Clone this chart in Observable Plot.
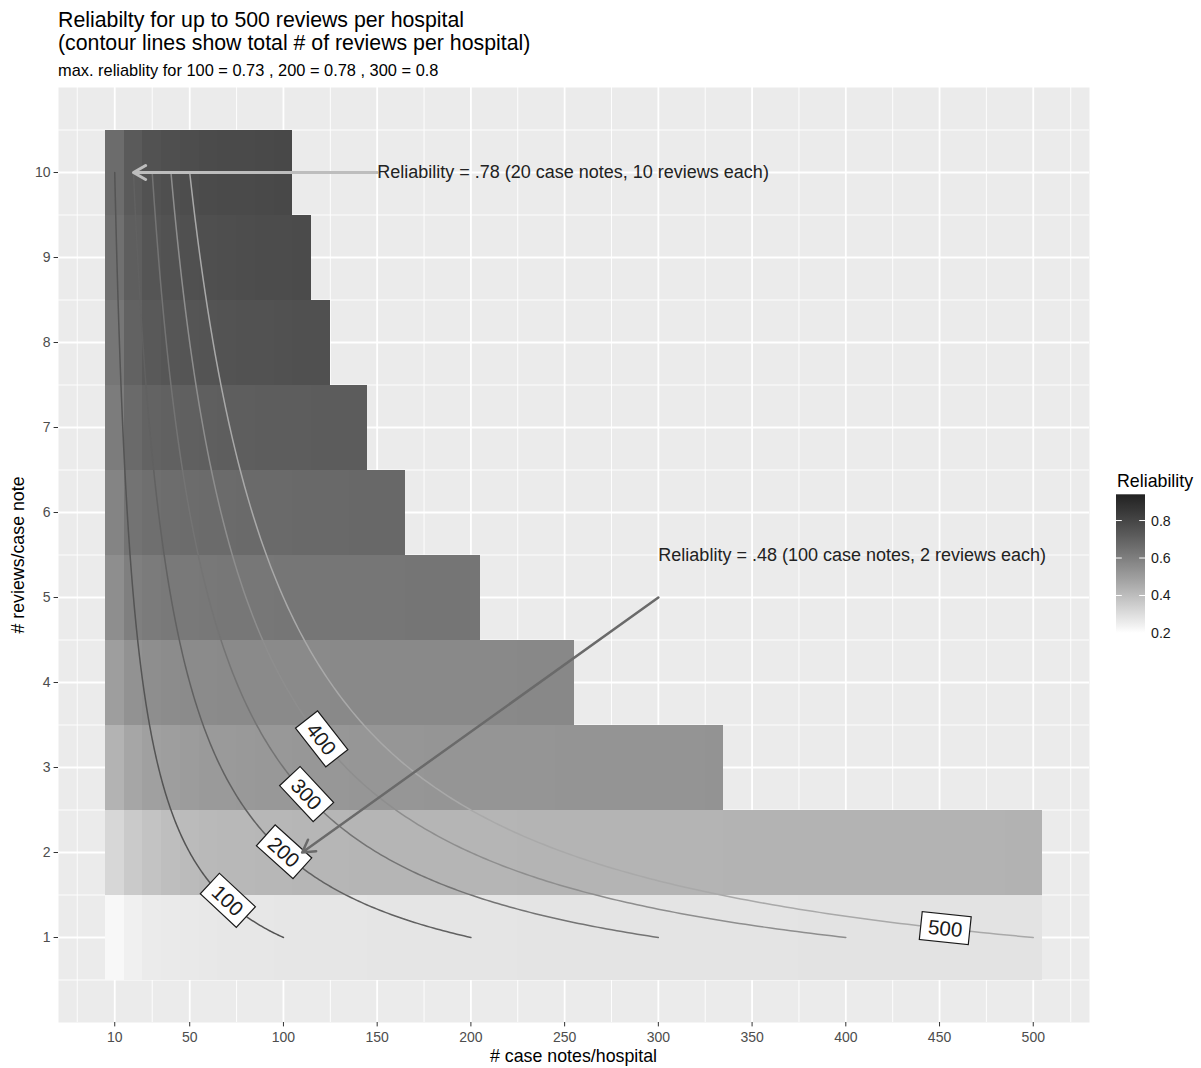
<!DOCTYPE html>
<html>
<head>
<meta charset="utf-8">
<script src="https://cdn.jsdelivr.net/npm/d3@7"></script>
<script src="https://cdn.jsdelivr.net/npm/@observablehq/plot@0.6"></script>
<style>
  body { margin: 0; background: #ffffff; }
  #wrap { position: relative; width: 1201px; height: 1068px; font-family: "Liberation Sans", Arial, Helvetica, sans-serif; }
  #wrap > svg { position: absolute; left: 0; top: 0; }
</style>
</head>
<body>
<div id="wrap"></div>
<script>
// ---------------- DATA ----------------
const caseNotes = [10,20,30,40,50,60,70,80,90,100,110,120,130,140,150,160,170,180,190,200,
                   210,220,230,240,250,260,270,280,290,300,310,320,330,340,350,360,370,380,390,400,
                   410,420,430,440,450,460,470,480,490,500];
const reviewsPerNote = [1,2,3,4,5,6,7,8,9,10];

// reliability per tile, read from the grey shade of each tile (case notes 10, 20, 30, ...)
const rel_r1 = [0.221,0.245,0.259,0.263,0.266,0.268,0.270,0.271,0.272,0.273,
                0.274,0.274,0.275,0.275,0.276,0.276,0.277,0.277,0.277,0.278,
                0.278,0.278,0.279,0.279,0.279,0.279,0.280,0.280,0.280,0.280,
                0.280,0.281,0.281,0.281,0.281,0.281,0.281,0.282,0.282,0.282,
                0.282,0.282,0.282,0.282,0.283,0.283,0.283,0.283,0.283,0.283];
const rel_r2 = [0.320,0.358,0.382,0.396,0.405,0.411,0.414,0.416,0.418,0.419,
                0.420,0.421,0.422,0.423,0.423,0.424,0.424,0.425,0.425,0.426,
                0.426,0.426,0.427,0.427,0.427,0.428,0.428,0.428,0.428,0.429,
                0.429,0.429,0.429,0.430,0.430,0.430,0.430,0.430,0.431,0.431,
                0.431,0.431,0.431,0.432,0.432,0.432,0.432,0.432,0.433,0.433];
const rel_r3 = [0.431,0.472,0.490,0.499,0.505,0.509,0.512,0.514,0.516,0.518,
                0.519,0.520,0.521,0.522,0.523,0.524,0.524,0.525,0.526,0.526,
                0.527,0.527,0.528,0.528,0.529,0.529,0.530,0.530,0.530,0.531,
                0.531,0.531,0.532];
const rel_r4 = [0.498,0.538,0.550,0.555,0.558,0.560,0.561,0.562,0.563,0.563,
                0.564,0.564,0.565,0.565,0.565,0.566,0.566,0.566,0.567,0.567,
                0.567,0.567,0.568,0.568,0.568];
const rel_r5 = [0.550,0.599,0.612,0.618,0.621,0.623,0.625,0.626,0.627,0.628,
                0.629,0.629,0.630,0.630,0.631,0.631,0.632,0.632,0.633,0.633];
const rel_r6 = [0.583,0.639,0.652,0.660,0.664,0.666,0.668,0.670,0.671,0.672,
                0.673,0.674,0.675,0.676,0.677,0.678];
const rel_r7 = [0.609,0.672,0.694,0.703,0.707,0.710,0.712,0.714,0.715,0.716,
                0.717,0.718,0.719,0.720];
const rel_r8 = [0.629,0.700,0.730,0.740,0.745,0.748,0.752,0.755,0.757,0.759,0.761,0.763];
const rel_r9 = [0.650,0.712,0.745,0.755,0.762,0.766,0.770,0.773,0.776,0.778,0.780];
const rel_r10 = [0.664,0.727,0.755,0.766,0.773,0.780,0.783,0.786,0.790,0.793];
const relByReviews = [rel_r1, rel_r2, rel_r3, rel_r4, rel_r5, rel_r6, rel_r7, rel_r8, rel_r9, rel_r10];

// contour lines: total reviews per hospital = case notes x reviews per case note
const contourLevels = [100, 200, 300, 400, 500];
// contour labels
const contourLabelNotes = [70, 100, 112, 120, 453];
const contourLabelReviews = [1.43, 2.0, 2.68, 3.33, 1.1];
const contourLabelAngle = [43, 42, 47, 52, 6];

// annotations
const annoText = ["Reliability = .78 (20 case notes, 10 reviews each)",
                  "Reliablity = .48 (100 case notes, 2 reviews each)"];
const annoNotes = [150, 300];
const annoReviews = [10, 5.5];
const arrowFromNotes = [150, 300];
const arrowFromReviews = [10, 5];
const arrowToNotes = [20, 110];
const arrowToReviews = [10, 2];

// axis ticks
const xTicks = [10, 50, 100, 150, 200, 250, 300, 350, 400, 450, 500];
const xMinor = [-10, 30, 75, 125, 175, 225, 275, 325, 375, 425, 475, 520];
const yTicks = [1, 2, 3, 4, 5, 6, 7, 8, 9, 10];
const yMinor = [0.5, 1.5, 2.5, 3.5, 4.5, 5.5, 6.5, 7.5, 8.5, 9.5, 10.5];
const legendTicks = [0.2, 0.4, 0.6, 0.8];

// ---------------- STYLE ----------------
const FONT = "Liberation Sans, Arial, Helvetica, sans-serif";
const contourColors = ["#545454", "#616161", "#747474", "#8e8e8e", "#a9a9a9"];
const colorOpts = {type: "linear", domain: [0.2, 0.94], range: ["#ffffff", "#222222"], interpolate: "lab"};

// ---------------- BUILD ----------------
const tiles = [];
relByReviews.forEach((row, i) => row.forEach((v, j) =>
  tiles.push({notes: caseNotes[j], reviews: reviewsPerNote[i], rel: v})));

const contourLines = contourLevels.map(lv =>
  d3.range(0, 241).map(i => {
    const notes = (lv / 10) * Math.pow(10, i / 240);
    return {level: lv, notes, reviews: lv / notes};
  }));

const labelData = contourLevels.map((lv, i) => ({
  text: String(lv), notes: contourLabelNotes[i], reviews: contourLabelReviews[i], angle: contourLabelAngle[i]
}));
const annoData = annoText.map((t, i) => ({text: t, notes: annoNotes[i], reviews: annoReviews[i]}));
const arrowData = arrowFromNotes.map((v, i) => ({x1: v, y1: arrowFromReviews[i], x2: arrowToNotes[i], y2: arrowToReviews[i]}));

const chart = Plot.plot({
  width: 1201,
  height: 1068,
  marginLeft: 58,
  marginRight: 112,
  marginTop: 87,
  marginBottom: 46,
  style: {fontFamily: FONT, background: "transparent", overflow: "visible"},
  x: {domain: [-20, 530]},
  y: {domain: [0, 11]},
  color: colorOpts,
  marks: [
    Plot.frame({fill: "#EBEBEB", stroke: "none"}),
    Plot.ruleX(xMinor, {stroke: "#ffffff", strokeWidth: 0.9}),
    Plot.ruleY(yMinor, {stroke: "#ffffff", strokeWidth: 0.9}),
    Plot.ruleX(xTicks, {stroke: "#ffffff", strokeWidth: 1.8}),
    Plot.ruleY(yTicks, {stroke: "#ffffff", strokeWidth: 1.8}),
    Plot.rect(tiles, {
      x1: d => d.notes - 5, x2: d => d.notes + 5,
      y1: d => d.reviews - 0.5, y2: d => d.reviews + 0.5,
      fill: "rel", shapeRendering: "crispEdges"
    }),
    ...contourLines.map((pts, i) => Plot.line(pts, {x: "notes", y: "reviews", stroke: contourColors[i], strokeWidth: 1.5})),
    Plot.text(labelData, {x: "notes", y: "reviews", text: "text", rotate: "angle", fontSize: 20.5, fill: "#1a1a1a", className: "contour-label"}),
    Plot.arrow([arrowData[0]], {x1: "x1", y1: "y1", x2: "x2", y2: "y2", stroke: "#bdbdbd", strokeWidth: 3, headLength: 7, headAngle: 60}),
    Plot.arrow([arrowData[1]], {x1: "x1", y1: "y1", x2: "x2", y2: "y2", stroke: "#6a6a6a", strokeWidth: 2.5, headLength: 8.4, headAngle: 60}),
    Plot.text(annoData, {x: "notes", y: "reviews", text: "text", textAnchor: "start", fontSize: 18, fill: "#222222"}),
    Plot.axisX(xTicks, {tickSize: 4.4, tickPadding: 5, fontSize: 14, stroke: "#333333", fill: "#4d4d4d", label: null, tickFormat: d => String(d)}),
    Plot.axisY(yTicks, {tickSize: 4.4, tickPadding: 3.5, fontSize: 14, stroke: "#333333", fill: "#4d4d4d", label: null, tickFormat: d => String(d)})
  ]
});

const wrap = document.getElementById("wrap");
wrap.appendChild(chart);

// white label boxes behind contour labels
const NS = "http://www.w3.org/2000/svg";
let labelTexts = chart.querySelectorAll("g.contour-label text");
if (!labelTexts.length) {
  labelTexts = Array.from(chart.querySelectorAll("text")).filter(t => contourLevels.map(String).includes(t.textContent) && t.getAttribute("transform") && t.getAttribute("transform").includes("rotate"));
}
labelTexts.forEach(t => {
  const b = t.getBBox();
  const r = document.createElementNS(NS, "rect");
  const px = 7.5, py = 2.5;
  r.setAttribute("x", b.x - px);
  r.setAttribute("y", b.y - py);
  r.setAttribute("width", b.width + 2 * px);
  r.setAttribute("height", b.height + 2 * py);
  r.setAttribute("fill", "#ffffff");
  r.setAttribute("stroke", "#1a1a1a");
  r.setAttribute("stroke-width", "1.2");
  const tr = t.getAttribute("transform");
  if (tr) r.setAttribute("transform", tr);
  t.parentNode.insertBefore(r, t);
});

// overlay: titles, axis titles, legend
const sc = Plot.scale({color: colorOpts});
const legTop = 494.3, legBot = 633, legL = 1116, legW = 29;
const yLeg = v => legBot - (v - colorOpts.domain[0]) / (colorOpts.domain[1] - colorOpts.domain[0]) * (legBot - legTop);
const stops = d3.range(0, 41).map(i => {
  const v = colorOpts.domain[0] + (colorOpts.domain[1] - colorOpts.domain[0]) * i / 40;
  return `<stop offset="${(i / 40 * 100).toFixed(2)}%" stop-color="${sc.apply(v)}"/>`;
}).join("");
const tickMarks = legendTicks.map(v => {
  const y = yLeg(v);
  return `<line x1="${legL}" x2="${legL + 5.8}" y1="${y}" y2="${y}" stroke="#fff" stroke-width="1"/>` +
         `<line x1="${legL + legW - 5.8}" x2="${legL + legW}" y1="${y}" y2="${y}" stroke="#fff" stroke-width="1"/>` +
         `<text x="${legL + legW + 6}" y="${y}" dy="0.35em" font-size="14.2" fill="#1a1a1a">${v}</text>`;
}).join("");

const overlay = `
<svg width="1201" height="1068" xmlns="http://www.w3.org/2000/svg" style="font-family:${FONT};pointer-events:none">
  <defs><linearGradient id="lg" x1="0" y1="1" x2="0" y2="0">${stops}</linearGradient></defs>
  <text x="58" y="26.5" font-size="21.3" fill="#000">Reliabilty for up to 500 reviews per hospital</text>
  <text x="58" y="49.5" font-size="21.3" fill="#000">(contour lines show total # of reviews per hospital)</text>
  <text x="58" y="75.5" font-size="16.4" fill="#000">max. reliablity for 100 = 0.73 , 200 = 0.78 , 300 = 0.8</text>
  <text x="573.5" y="1062" font-size="17.8" text-anchor="middle" fill="#000"># case notes/hospital</text>
  <text transform="translate(24,555) rotate(-90)" font-size="17.8" text-anchor="middle" fill="#000"># reviews/case note</text>
  <text x="1117" y="487" font-size="17.8" fill="#000">Reliability</text>
  <rect x="${legL}" y="${legTop}" width="${legW}" height="${legBot - legTop}" fill="url(#lg)"/>
  ${tickMarks}
</svg>`;
wrap.insertAdjacentHTML("beforeend", overlay);
</script>
</body>
</html>
